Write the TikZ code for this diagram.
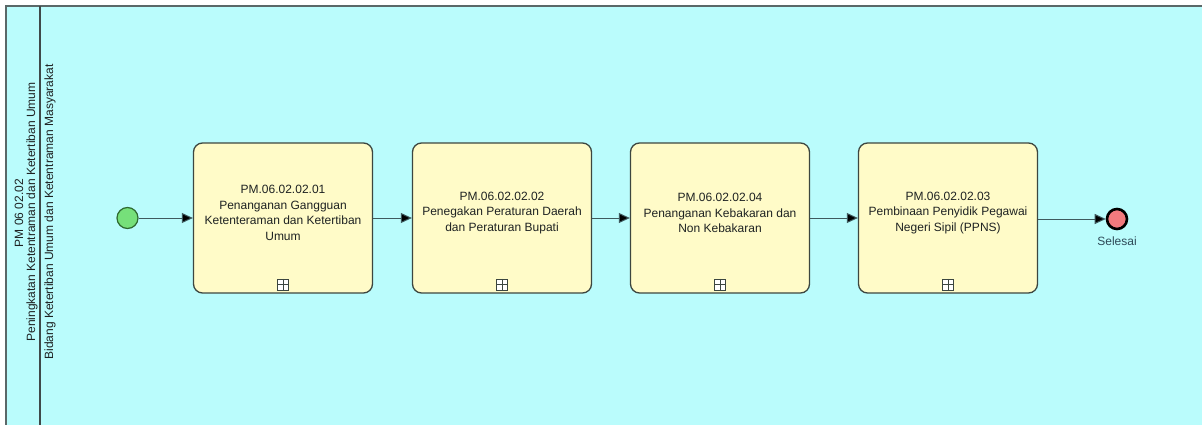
\documentclass[tikz,border=0pt]{standalone}
\usepackage{fontspec}
\setmainfont{Liberation Sans}
\usetikzlibrary{arrows.meta}
\definecolor{poolfill}{HTML}{BAFCFC}
\definecolor{poolline}{HTML}{5A6868}
\definecolor{taskfill}{HTML}{FFFBC8}
\definecolor{taskline}{HTML}{3C4640}
\definecolor{flowline}{HTML}{3E5A5E}
\definecolor{startfill}{HTML}{76E07A}
\definecolor{startline}{HTML}{2E6A30}
\definecolor{endfill}{HTML}{F27A7E}
\definecolor{txt}{HTML}{1E2222}
\definecolor{lbl}{HTML}{2E4A58}
\tikzset{
  txtfont/.style={font=\fontsize{12}{15.5}\selectfont, text=txt},
  taskbox/.style={draw=taskline, line width=1.3pt, fill=taskfill, rounded corners=9pt,
    minimum width=179pt, minimum height=150pt, inner sep=0pt},
  tasklabel/.style={txtfont, align=center, inner sep=0pt},
  marker/.style={draw=taskline, line width=0.8pt, fill=white, minimum size=11pt, inner sep=0pt},
  flow/.style={draw=flowline, line width=1pt, -{Triangle[length=11pt,width=10pt,fill=black]}},
  startev/.style={circle, draw=startline, line width=1.2pt, fill=startfill, minimum size=21pt, inner sep=0pt},
  endev/.style={circle, draw=black, line width=2.6pt, fill=endfill, minimum size=20pt, inner sep=0pt},
  lanetext/.style={txtfont, rotate=90, inner sep=0pt},
}
\begin{document}
\begin{tikzpicture}[x=1pt,y=-1pt]
\useasboundingbox (0,0) rectangle (1202,425);
\fill[white] (0,0) rectangle (1202,425);
\begin{scope}
\clip (0,0) rectangle (1202,425);
\draw[draw=poolline, line width=2pt, fill=poolfill] (6,6) rectangle (1215,440);
\draw[draw=poolline!70!black, line width=1.6pt] (40,6) -- (40,440);
\end{scope}
% lane texts
\node[lanetext] (pm) at (19,213) {PM 06 02.02};
\node[lanetext] (pool) at (32,212) {Peningkatan Ketentraman dan Ketertiban Umum};
\node[lanetext] (lane) at (50,212) {Bidang Ketertiban Umum dan Ketentraman Masyarakat};
% events
\node[startev] (start) at (127.5,218) {};
\node[endev] (end) at (1117,219) {};
\node[txtfont, text=lbl, anchor=north] (endlbl) at (1117,233) {Selesai};
% tasks
\node[taskbox] (t1) at (283,218) {};
\node[taskbox] (t2) at (502,218) {};
\node[taskbox] (t3) at (720,218) {};
\node[taskbox] (t4) at (948,218) {};
\node[tasklabel] (l1) at (283,213) {PM.06.02.02.01\\Penanganan Gangguan\\Ketenteraman dan Ketertiban\\Umum};
\node[tasklabel] (l2) at (502,213) {PM.06.02.02.02\\Penegakan Peraturan Daerah\\dan Peraturan Bupati};
\node[tasklabel] (l3) at (720,213) {PM.06.02.02.04\\Penanganan Kebakaran dan\\Non Kebakaran};
\node[tasklabel] (l4) at (948,213) {PM.06.02.02.03\\Pembinaan Penyidik Pegawai\\Negeri Sipil (PPNS)};
% collapsed-subprocess markers
\foreach \t in {t1,t2,t3,t4}{
  \node[marker] (m\t) at ([yshift=9pt]\t.south) {};
  \draw[taskline, line width=0.8pt] (m\t.north) -- (m\t.south) (m\t.west) -- (m\t.east);
}
% flows
\draw[flow] (start) -- (t1);
\draw[flow] (t1) -- (t2);
\draw[flow] (t2) -- (t3);
\draw[flow] (t3) -- (t4);
\draw[flow] (t4.east |- end) -- (end);
\end{tikzpicture}
\end{document}
